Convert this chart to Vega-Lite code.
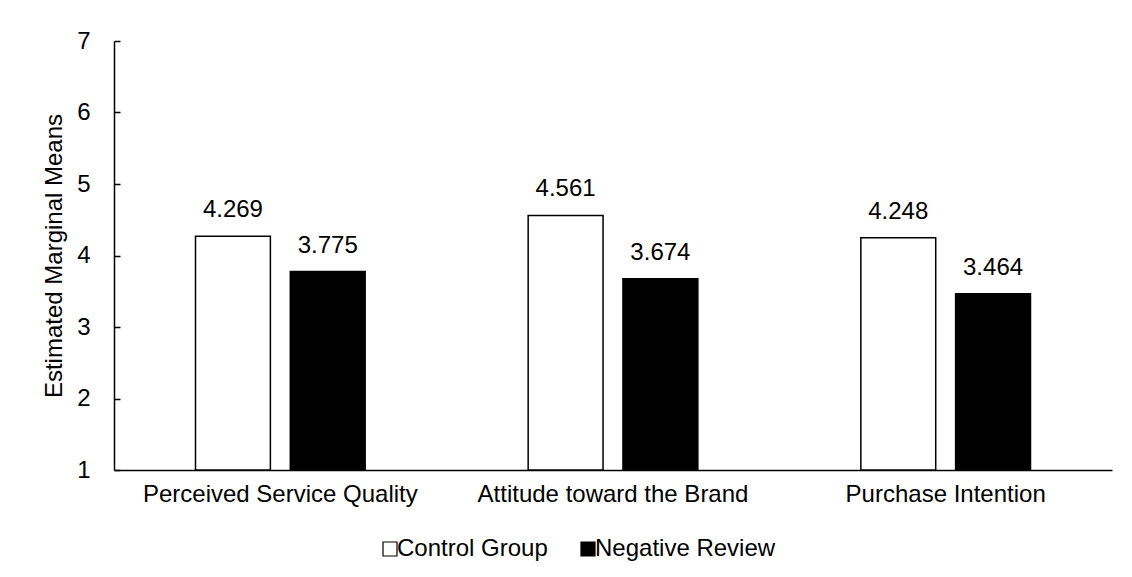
{
  "$schema": "https://vega.github.io/schema/vega-lite/v6.json",
  "width": 998,
  "height": 429,
  "autosize": {"type": "none"},
  "padding": {"left": 114, "top": 41, "right": 20, "bottom": 107},
  "background": "white",
  "config": {
    "font": "Liberation Sans",
    "view": {"stroke": null},
    "axis": {
      "labelFontSize": 24,
      "labelColor": "black",
      "titleFontSize": 24,
      "titleFontWeight": "normal",
      "titleColor": "black",
      "domainColor": "black",
      "domainWidth": 1.5,
      "tickColor": "black",
      "tickWidth": 1.5,
      "grid": false,
      "labelLimit": 400
    },
    "legend": {"labelFontSize": 24, "labelColor": "black", "labelLimit": 400}
  },
  "data": {
    "values": [
      {"measure": "Perceived Service Quality", "group": "Control Group", "mean": 4.269},
      {"measure": "Perceived Service Quality", "group": "Negative Review", "mean": 3.775},
      {"measure": "Attitude toward the Brand", "group": "Control Group", "mean": 4.561},
      {"measure": "Attitude toward the Brand", "group": "Negative Review", "mean": 3.674},
      {"measure": "Purchase Intention", "group": "Control Group", "mean": 4.248},
      {"measure": "Purchase Intention", "group": "Negative Review", "mean": 3.464}
    ]
  },
  "encoding": {
    "x": {
      "field": "measure",
      "type": "nominal",
      "sort": ["Perceived Service Quality", "Attitude toward the Brand", "Purchase Intention"],
      "scale": {"paddingInner": 0.49, "paddingOuter": 0.245},
      "axis": {
        "title": null,
        "labelAngle": 0,
        "labelPadding": 12,
        "ticks": false
      }
    },
    "xOffset": {
      "field": "group",
      "type": "nominal",
      "scale": {"paddingInner": 0.21, "paddingOuter": 0}
    },
    "y": {
      "field": "mean",
      "type": "quantitative",
      "scale": {"domain": [1, 7], "zero": false, "nice": false},
      "axis": {
        "title": "Estimated Marginal Means",
        "titlePadding": 10,
        "values": [1, 2, 3, 4, 5, 6, 7],
        "format": "d",
        "labelPadding": 30,
        "tickSize": -6
      }
    }
  },
  "layer": [
    {
      "mark": {"type": "bar", "stroke": "black", "strokeWidth": 1.5},
      "encoding": {
        "y2": {"datum": 1},
        "fill": {
          "field": "group",
          "type": "nominal",
          "scale": {"domain": ["Control Group", "Negative Review"], "range": ["white", "black"]},
          "legend": {
            "title": null,
            "orient": "none",
            "direction": "horizontal",
            "legendX": 264,
            "legendY": 496,
            "symbolType": "square",
            "symbolSize": 196,
            "symbolStrokeColor": "black",
            "symbolStrokeWidth": 1.2,
            "labelOffset": -5,
            "columnPadding": 28
          }
        }
      }
    },
    {
      "mark": {"type": "text", "baseline": "alphabetic", "dy": -19, "fontSize": 24, "color": "black"},
      "encoding": {
        "text": {"field": "mean", "type": "quantitative", "format": ".3f"}
      }
    }
  ]
}
